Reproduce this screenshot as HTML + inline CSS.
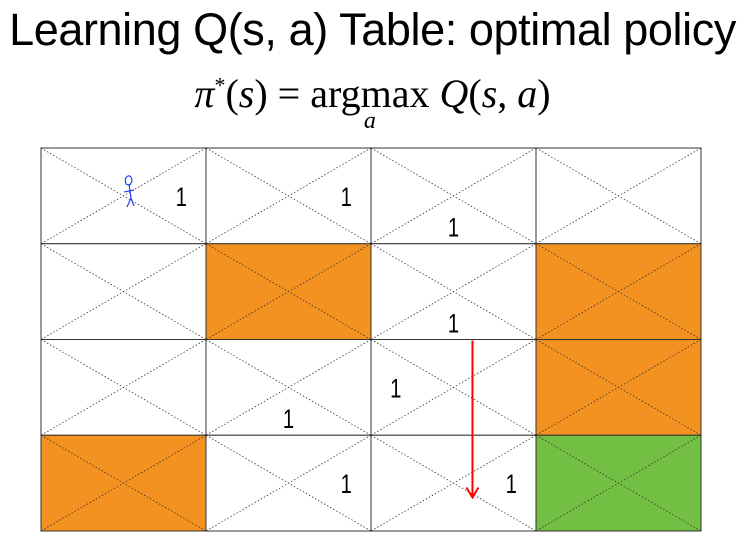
<!DOCTYPE html>
<html><head><meta charset="utf-8"><style>
body{margin:0;width:745px;height:542px;background:#fff;overflow:hidden;position:relative;font-family:"Liberation Sans",sans-serif}
#title{position:absolute;left:0;width:745px;top:4px;text-align:center;font-size:45px;color:#000;letter-spacing:-0.4px;white-space:nowrap}
#formula{position:absolute;left:0;width:745px;top:70px;text-align:center;font-family:"Liberation Serif",serif;font-size:40px;color:#000;white-space:nowrap}
svg{position:absolute;left:0;top:0}
</style></head><body>
<div id="title">Learning Q(s, a) Table: optimal policy</div>
<div id="formula"><i>π</i><sup style="font-size:22px">*</sup>(<i>s</i>) = <span style="display:inline-block;position:relative">argmax<span style="position:absolute;left:0;right:0;top:38px;font-size:24px;text-align:center"><i>a</i></span></span> <i>Q</i>(<i>s</i>, <i>a</i>)</div>
<svg id="grid" width="745" height="542"></svg>
<script>
const cols=4, rows=4;
const cellColors=[["","","",""],["","orange","","orange"],["","","","orange"],["orange","","","green"]];
const labels=[[0,0,"E"],[0,1,"E"],[0,2,"S"],[1,2,"S"],[2,2,"W"],[2,1,"S"],[3,1,"E"],[3,2,"E"]];
const arrowFrom=[2,2], arrowTo=[3,2];
const X0=41,Y0=148,CW=165,CH=95.75;
const fill={orange:"#F39220",green:"#72BF44"};
const s=document.getElementById('grid');const NS="http://www.w3.org/2000/svg";
function mk(t,a){const e=document.createElementNS(NS,t);for(const k in a)e.setAttribute(k,a[k]);s.appendChild(e);return e;}
const cx=c=>X0+c*CW, cy=r=>Y0+r*CH;
for(let r=0;r<rows;r++)for(let c=0;c<cols;c++){
 const col=cellColors[r][c];
 const rc=mk('rect',{x:cx(c),y:cy(r),width:CW,height:CH,fill:col?fill[col]:"#fff",stroke:"#333","stroke-width":1});
 
 
 mk('line',{x1:cx(c),y1:cy(r),x2:cx(c+1),y2:cy(r+1),stroke:"#333","stroke-width":0.8,"stroke-dasharray":"1.5,2"});
 mk('line',{x1:cx(c+1),y1:cy(r),x2:cx(c),y2:cy(r+1),stroke:"#333","stroke-width":0.8,"stroke-dasharray":"1.5,2"});
}
const off={E:[0.85,0.5],W:[0.15,0.5],S:[0.5,0.82],N:[0.5,0.18]};
labels.forEach(([r,c,d])=>{
 const o=off[d];
 const t=mk('text',{x:cx(c)+o[0]*CW,y:cy(r)+o[1]*CH+10,"font-size":27,"text-anchor":"middle",fill:"#000","font-family":"Liberation Sans, sans-serif",transform:""});
 t.setAttribute('transform',`translate(${cx(c)+o[0]*CW} 0) scale(0.75 1) translate(${-(cx(c)+o[0]*CW)} 0)`);
 t.textContent="1";
 
 
});
const ax=cx(arrowFrom[1])+0.615*CW;
const ay1=cy(arrowFrom[0])+1, ay2=cy(arrowTo[0])+0.65*CH;
const ar=mk('line',{x1:ax,y1:ay1,x2:ax,y2:ay2,stroke:"#f00","stroke-width":2});


mk('polyline',{points:`${ax-6},${ay2-10} ${ax},${ay2} ${ax+6},${ay2-10}`,fill:"none",stroke:"#f00","stroke-width":2});
const fig=mk('g',{stroke:"#2244ee","stroke-width":1.2,fill:"none"});


const fl=(d)=>{const p=document.createElementNS(NS,'path');p.setAttribute('d',d);fig.appendChild(p);};
fl("M128,176 q-4,2 -2,8 q5,3 6,-4 q-1,-5 -4,-4");fl("M129,184 L131,198");fl("M124,192 L134,190");fl("M131,198 L127,207");fl("M131,198 L134,206");
</script>
</body></html>
